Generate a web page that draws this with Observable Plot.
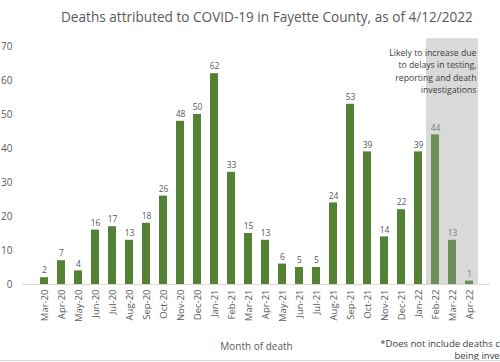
<!DOCTYPE html>
<html>
<head>
<meta charset="utf-8">
<script src="https://cdn.jsdelivr.net/npm/d3@7"></script>
<script src="https://cdn.jsdelivr.net/npm/@observablehq/plot@0.6"></script>
<style>
  html, body { margin: 0; padding: 0; background: #fff; }
  body { width: 500px; height: 362px; overflow: hidden; position: relative; font-family: "Open Sans", sans-serif; }
  #title { position: absolute; left: 61px; top: 7px; white-space: nowrap; font-size: 13.6px; color: #595959; line-height: 20px; }
  #chart { position: absolute; left: 0; top: 30px; }
  #foot { position: absolute; right: -35px; top: 338px; text-align: right; white-space: nowrap; font-size: 9.5px; line-height: 12px; color: #404040; }
  #border { position: absolute; left: 0; right: 0; top: 360px; border-top: 1px solid #d9d9d9; }
</style>
</head>
<body>
<div id="title">Deaths attributed to COVID-19 in Fayette County, as of 4/12/2022</div>
<div id="chart"></div>
<div id="foot">*Does not include deaths currently<br>being investigated</div>
<div id="border"></div>
<script>
const months = ["Mar-20","Apr-20","May-20","Jun-20","Jul-20","Aug-20","Sep-20","Oct-20","Nov-20","Dec-20",
  "Jan-21","Feb-21","Mar-21","Apr-21","May-21","Jun-21","Jul-21","Aug-21","Sep-21","Oct-21","Nov-21","Dec-21",
  "Jan-22","Feb-22","Mar-22","Apr-22"];
const deaths = [2,7,4,16,17,13,18,26,48,50,62,33,15,13,6,5,5,24,53,39,14,22,39,44,13,1];
const provisionalMonths = ["Feb-22","Mar-22","Apr-22"];
const yTicks = [0,10,20,30,40,50,60,70];
const shadeTop = 72.3;
const noteText = "Likely to increase due\nto delays in testing,\nreporting and death\ninvestigations";
const noteY = 63;
const xLabel = "Month of death";

const data = months.map((m, i) => ({month: m, deaths: deaths[i], prov: provisionalMonths.includes(m)}));

const chart = Plot.plot({
  width: 500,
  height: 332,
  marginLeft: 22,
  marginRight: 10,
  marginTop: 16,
  marginBottom: 78,
  style: {fontFamily: "Open Sans, sans-serif", background: "transparent"},
  x: {domain: months, padding: 0.55, label: null},
  y: {domain: [0, 70], label: null},
  marks: [
    Plot.barY(provisionalMonths, {x: d => d, y: () => shadeTop, fill: "#d9d9d9", insetLeft: -5, insetRight: -5}),
    Plot.barY(data, {x: "month", y: "deaths", fill: d => d.prov ? "#6e8e58" : "#548235"}),
    Plot.text(data, {x: "month", y: "deaths", text: d => String(d.deaths), dy: -7, fontSize: 8.5, fill: d => d.prov ? "#7f7f7f" : "#595959"}),
    Plot.ruleY([0], {stroke: "#d9d9d9", strokeWidth: 1}),
    Plot.axisY({ticks: yTicks, tickSize: 0, tickPadding: 10, fontSize: 10, color: "#595959", label: null}),
    Plot.axisX({tickSize: 0, tickPadding: 5, tickRotate: -90, fontSize: 9.5, color: "#595959", label: null}),
    Plot.text([noteText], {x: () => "Apr-22", y: () => noteY, text: d => d, dx: 7, textAnchor: "end", lineAnchor: "middle", lineHeight: 1.44, fontSize: 8.7, fill: "#404040"}),
    Plot.text([xLabel], {frameAnchor: "bottom", text: d => d, dy: 65, fontSize: 10, fill: "#595959"})
  ]
});
document.getElementById("chart").appendChild(chart);
</script>
</body>
</html>
